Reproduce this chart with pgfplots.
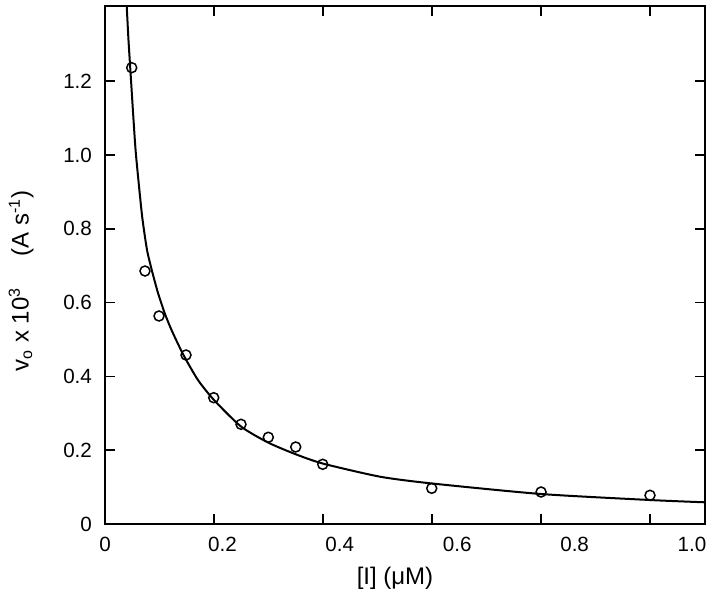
\documentclass[border=0pt]{standalone}
\usepackage{fontspec}
\setmainfont{Liberation Sans}
\usepackage{pgfplots}
\pgfplotsset{compat=1.18}
\usetikzlibrary{calc}

\begin{document}
\begin{tikzpicture}
\begin{axis}[
  name=ax,
  scale only axis,
  width=300pt, height=259pt,
  xmin=0, xmax=1.0221, ymin=0, ymax=1.4038,
  axis line style={line width=1pt},
  every tick/.style={black, line width=0.8pt},
  major tick length=5pt,
  tick align=inside,
  xtick pos=both, ytick pos=both,
  xticklabel pos=left, yticklabel pos=left,
  xtick={0.1857,0.3714,0.5571,0.7428,0.9285},
  xticklabels={},
  extra x ticks={0,0.2,0.4,0.6,0.8,1.0},
  extra x tick labels={0,0.2,0.4,0.6,0.8,1.0},
  extra x tick style={major tick length=0pt},
  ytick={0,0.2,0.4,0.6,0.8,1.0,1.2},
  yticklabels={0,0.2,0.4,0.6,0.8,1.0,1.2},
  /pgf/number format/assume math mode=true,
  tick label style={font=\fontsize{10.3}{12}\selectfont},
  xticklabel style={yshift=-3pt},
  yticklabel style={xshift=-3pt},
  label style={font=\fontsize{12}{14}\selectfont},
  xlabel={[I] (μM)},
  xlabel style={xshift=-5pt, yshift=-1pt},
  ylabel={v\textsubscript{o} x 10\textsuperscript{3}\hspace{1.3em}(A s\textsuperscript{-1})},
  ylabel style={yshift=8pt, xshift=-8pt},
]
  % fitted curve
  \addplot[black, line width=1pt, smooth, tension=0.4] coordinates {
    (0.0370,1.4038) (0.0400,1.3117) (0.0443,1.2033) (0.0486,1.0949)
    (0.0528,1.0000) (0.0630,0.8374) (0.0716,0.7425) (0.0801,0.6856)
    (0.0903,0.6260) (0.1022,0.5691) (0.1141,0.5230) (0.1337,0.4580)
    (0.1584,0.3902) (0.1857,0.3360) (0.2317,0.2642) (0.2777,0.2209)
    (0.3237,0.1897) (0.3709,0.1639) (0.4685,0.1282) (0.5571,0.1098)
    (0.7428,0.0813) (0.9284,0.0650) (1.0221,0.0588)
  };
  % measured points
  \addplot[only marks, mark=o, mark size=2.5pt, mark options={line width=0.75pt, black}] coordinates {
    (0.0455,1.2366) (0.0681,0.6856) (0.0920,0.5637) (0.1380,0.4580)
    (0.1852,0.3423) (0.2317,0.2702) (0.2782,0.2350) (0.3249,0.2087)
    (0.3709,0.1618) (0.5566,0.0967) (0.7428,0.0867) (0.9284,0.0778)
  };
\end{axis}
\pgfresetboundingbox
\useasboundingbox ($(ax.south west)+(-52.5pt,-38pt)$) rectangle ($(ax.north east)+(3.5pt,3pt)$);
\end{tikzpicture}
\end{document}
